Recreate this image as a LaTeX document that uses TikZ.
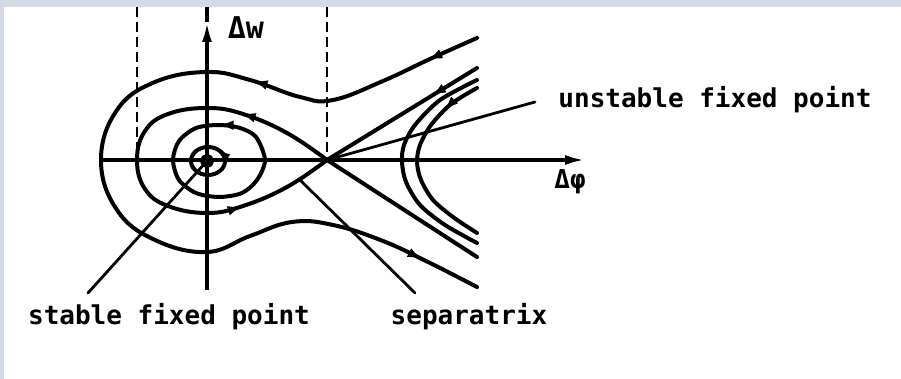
\documentclass[tikz,border=0pt]{standalone}
\usepackage{fontspec}
\newfontfamily\plotfont{DejaVu Sans Mono Bold}
\usetikzlibrary{arrows.meta,decorations.markings}

\tikzset{
    phasecurve/.style={line width=2pt, line join=round, line cap=round},
    axisline/.style={line width=1.7pt},
    leader/.style={line width=1.4pt, line cap=round},
    guide/.style={line width=1.2pt, dash pattern=on 5pt off 2.5pt},
    flowarrow/.style={postaction={decorate, decoration={markings,
        mark=at position #1 with {\arrow{Latex[length=7pt,width=5pt]}}}}},
    plotlabel/.style={font=\plotfont\fontsize{13}{15}\selectfont, inner sep=0pt},
}

\begin{document}
\begin{tikzpicture}[x=0.5pt,y=-0.5pt]
    \definecolor{bandColour}{HTML}{D3DAE6}

    % Frame
    \useasboundingbox (0,0) rectangle (901,379);
    \fill[bandColour] (0,0) rectangle (901,7);
    \fill[bandColour] (0,0) rectangle (4,379);

    % Fixed points
    \coordinate (O) at (207,161);
    \coordinate (S) at (327,160);

    % Draw axes
    \coordinate (phiStart) at (100,160);
    \coordinate (phiEnd) at (585,160);
    \coordinate (wStart) at (207,290);
    \coordinate (wTip) at (207,22);
    \coordinate (wEnd) at (207,7);
    \draw[axisline,-{Latex[length=10pt,width=5pt]}] (phiStart) -- (phiEnd);
    \draw[axisline,-{Latex[length=10pt,width=5pt]}] (wStart) -- (wTip);
    \draw[axisline] (wTip) -- (wEnd);
    \node[plotlabel] (phiLabel) at (570,182) {Δφ};
    \node[plotlabel, font=\plotfont\fontsize{15}{17}\selectfont] (wLabel) at (246,28) {Δw};

    % Dashed guides
    \coordinate (leftGuideTop) at (137,7);
    \coordinate (leftGuideEnd) at (137,150);
    \coordinate (rightGuideTop) at (327,7);
    \draw[guide] (leftGuideTop) -- (leftGuideEnd);
    \draw[guide] (rightGuideTop) -- (S);

    % Outer trajectory
    \draw[phasecurve, flowarrow=0.06, flowarrow=0.27, flowarrow=0.93]
        plot[smooth, tension=0.7] coordinates {(477,38) (430,59) (383,81) (333,100) (300,97)
        (250,80) (207,72) (155,82) (117,110) (101,160) (117,210) (155,240) (207,252)
        (250,236) (292,222) (333,225) (383,241) (430,263) (477,287)};

    % Separatrix
    \coordinate (sepUpper) at (477,68);
    \coordinate (sepLower) at (477,257);
    \draw[phasecurve, flowarrow=0.3] (sepUpper) -- (S);
    \draw[phasecurve] (S) -- (sepLower);
    \draw[phasecurve, flowarrow=0.21, flowarrow=0.79]
        plot[smooth, tension=0.7] coordinates {(327,160) (287,133) (243,114) (207,108)
        (168,114) (145,131) (137,160) (145,189) (168,206) (207,213) (243,206) (287,187) (327,160)};

    % Inner orbits
    \draw[phasecurve, flowarrow=0.15]
        plot[smooth cycle] coordinates {(265,160) (256,137) (240,128) (219,125) (196,128)
        (179,141) (173,160) (179,180) (196,193) (219,197) (242,193) (257,180)};
    \draw[phasecurve] (208,161) ellipse [x radius=17, y radius=14];
    \coordinate (ringArrowStart) at (221,152);
    \coordinate (ringArrowTip) at (218.5,149.8);
    \draw[phasecurve,-{Latex[length=6pt,width=4.5pt]}] (ringArrowStart) -- (ringArrowTip);
    \draw[phasecurve] (O) circle (5);
    \fill (O) circle (2.5);

    % Unbounded orbits
    \draw[phasecurve]
        plot[smooth] coordinates {(477,80) (440,100) (415,125) (404,145) (402,162)
        (406,182) (420,205) (445,225) (477,243)};
    \draw[phasecurve, flowarrow=0.2]
        plot[smooth] coordinates {(477,88) (451,104) (431,125) (420,145) (417,162)
        (421,180) (433,200) (453,217) (477,233)};

    % Labels
    \node[plotlabel] (stableLabel) at (169,317) {stable fixed point};
    \node[plotlabel] (sepLabel) at (469,317) {separatrix};
    \node[plotlabel] (unstableLabel) at (715,100) {unstable fixed point};
    \coordinate (stableFoot) at (88,293);
    \coordinate (sepFoot) at (415,293);
    \coordinate (sepTouch) at (300,180);
    \coordinate (unstableFoot) at (535,102);
    \draw[leader] (stableFoot) -- (O);
    \draw[leader] (sepFoot) -- (sepTouch);
    \draw[leader] (unstableFoot) -- (S);

\end{tikzpicture}
\end{document}
